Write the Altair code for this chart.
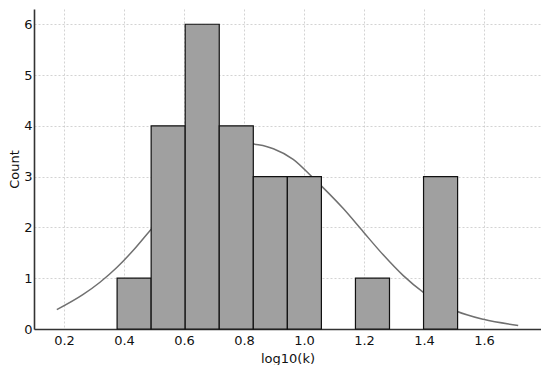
import altair as alt
import pandas as pd

# Histogram bins (edges) and counts
bin_left = [0.377, 0.4905, 0.604, 0.7175, 0.831, 0.9445, 1.1715, 1.3985]
bin_right = [0.4905, 0.604, 0.7175, 0.831, 0.9445, 1.058, 1.285, 1.512]
counts = [1, 4, 6, 4, 3, 3, 1, 3]

# KDE curve points
kde_x = [0.176, 0.264, 0.32, 0.376, 0.431, 0.487, 0.60, 0.72, 0.78, 0.83, 0.898,
         0.964, 1.026, 1.131, 1.198, 1.264, 1.331, 1.398, 1.509, 1.598, 1.714]
kde_y = [0.38, 0.68, 0.92, 1.21, 1.55, 1.94, 2.70, 3.35, 3.56, 3.64, 3.55,
         3.34, 3.0, 2.37, 1.91, 1.46, 1.05, 0.72, 0.35, 0.19, 0.07]

x_ticks = [0.2, 0.4, 0.6, 0.8, 1.0, 1.2, 1.4, 1.6]
y_ticks = [0, 1, 2, 3, 4, 5, 6]

bars = pd.DataFrame({"x": bin_left, "x2": bin_right, "count": counts})
kde = pd.DataFrame({"x": kde_x, "y": kde_y})

xscale = alt.Scale(domain=[0.1, 1.79], nice=False, zero=False)
yscale = alt.Scale(domain=[0, 6.3], nice=False)

xaxis = alt.Axis(values=x_ticks, format=".1f", title="log10(k)", labelPadding=5, titlePadding=5)
yaxis = alt.Axis(values=y_ticks, format="d", title="Count", labelPadding=2, titlePadding=2)

line = alt.Chart(kde).mark_line(color="#707070", strokeWidth=1.5, interpolate="monotone").encode(
    x=alt.X("x:Q", scale=xscale, axis=xaxis),
    y=alt.Y("y:Q", scale=yscale, axis=yaxis),
)

rects = alt.Chart(bars).mark_rect(color="#a0a0a0", stroke="#111111", strokeWidth=1.2).encode(
    x=alt.X("x:Q", scale=xscale, axis=xaxis),
    x2="x2:Q",
    y=alt.Y("count:Q", scale=yscale, axis=yaxis),
    y2=alt.datum(0),
)

chart = alt.layer(line, rects).properties(
    width=507, height=320, padding={"left": 0, "top": 1, "right": 0, "bottom": 0}
).configure_view(stroke=None).configure_axis(
    labelFont="DejaVu Sans", titleFont="DejaVu Sans", labelFontSize=13, titleFontSize=13,
    titleFontWeight="normal", labelColor="#111111", titleColor="#111111",
    domainColor="#333333", domainWidth=1.6, ticks=False,
    gridColor="#c8c8c8", gridDash=[2, 2], gridWidth=0.8,
)

chart.save("out.html", embed_options={"renderer": "svg", "actions": False})
